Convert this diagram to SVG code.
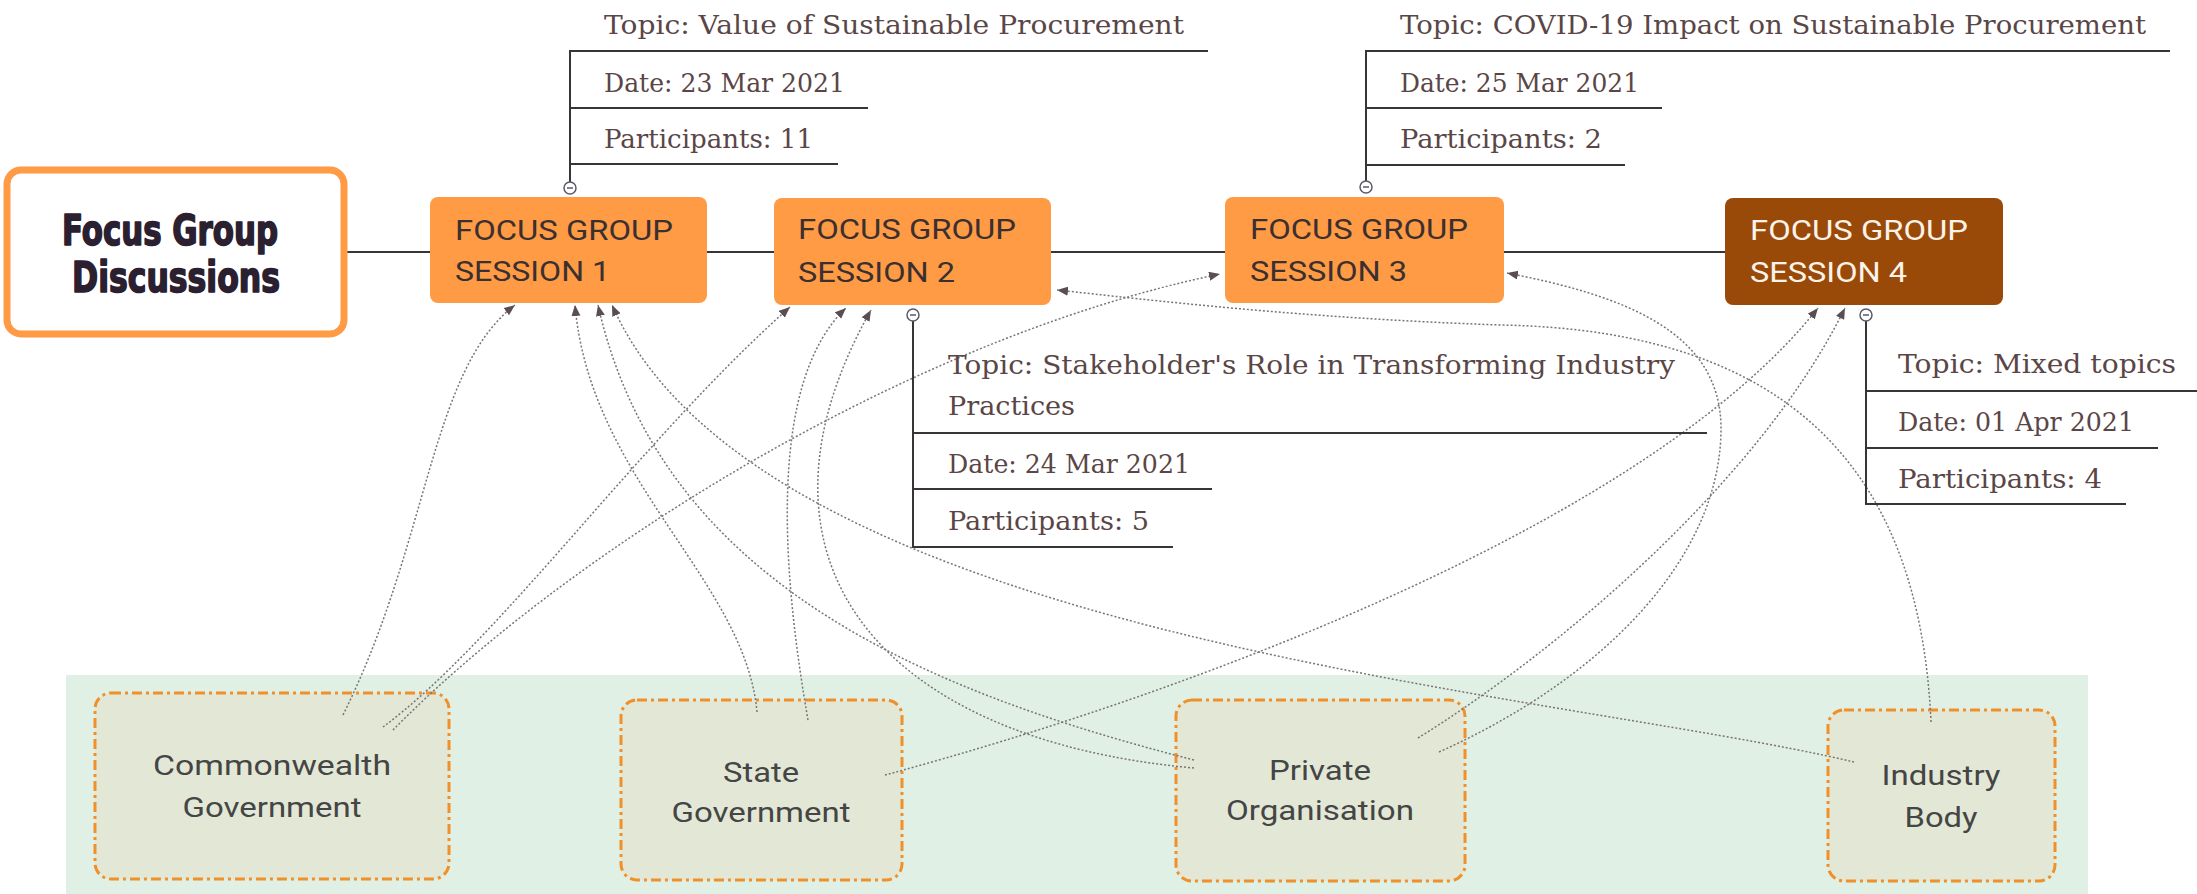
<svg xmlns="http://www.w3.org/2000/svg" width="2197" height="894" viewBox="0 0 2197 894">
<style>
.sess{fill:#FF9A45;}
.sess4{fill:#9A4A08;}
.stxt{font-family:Roboto,"Liberation Sans",sans-serif;font-size:28px;fill:#3a3030;}
.stxt4{font-family:Roboto,"Liberation Sans",sans-serif;font-size:28px;fill:#fbf3ea;}
.dtxt{font-family:"DejaVu Serif","Liberation Serif",serif;font-size:26px;fill:#5a4646;}
.solid{stroke:#3a3535;stroke-width:2;fill:none;}
.dline{stroke:#3a3535;stroke-width:2;fill:none;}
.coll{fill:#fff;stroke:#5a5a6a;stroke-width:1.5;}
.stk{fill:#E3E8D6;stroke:#F0902A;stroke-width:3;stroke-dasharray:10 4 3 4;}
.ltxt{font-family:Roboto,"Liberation Sans",sans-serif;font-size:28px;fill:#454545;text-anchor:middle;}
.cur{fill:none;stroke:#7a7474;stroke-width:1.5;stroke-dasharray:2 2;marker-end:url(#arr);}
.title{font-family:"DejaVu Sans Condensed","DejaVu Sans",sans-serif;font-weight:bold;font-size:42px;fill:#2a2030;stroke:#2a2030;stroke-width:1.6;stroke-linejoin:round;}
</style>
<defs>
<marker id="arr" markerUnits="userSpaceOnUse" markerWidth="12" markerHeight="10" refX="11" refY="4.5" orient="auto">
<path d="M0,0 L11,4.5 L0,9 z" fill="#5a4e52"/>
</marker>
</defs>
<rect x="0" y="0" width="2197" height="894" fill="#ffffff"/>
<rect id="stakeholder-area" x="66" y="675" width="2022" height="219" fill="#E1F0E4"/>

<g id="commonwealth">
<rect class="stk" x="95" y="693" width="354" height="186" rx="16"/>
<text class="ltxt" x="272" y="775" textLength="238" lengthAdjust="spacingAndGlyphs">Commonwealth</text>
<text class="ltxt" x="272" y="817" textLength="179" lengthAdjust="spacingAndGlyphs">Government</text>
</g>
<g id="state">
<rect class="stk" x="621" y="700" width="281" height="180" rx="16"/>
<text class="ltxt" x="761" y="782" textLength="76" lengthAdjust="spacingAndGlyphs">State</text>
<text class="ltxt" x="761" y="822" textLength="179" lengthAdjust="spacingAndGlyphs">Government</text>
</g>
<g id="private">
<rect class="stk" x="1176" y="700" width="289" height="181" rx="16"/>
<text class="ltxt" x="1320" y="780" textLength="102" lengthAdjust="spacingAndGlyphs">Private</text>
<text class="ltxt" x="1320" y="820" textLength="188" lengthAdjust="spacingAndGlyphs">Organisation</text>
</g>
<g id="industry">
<rect class="stk" x="1828" y="710" width="227" height="171" rx="16"/>
<text class="ltxt" x="1941" y="785" textLength="119" lengthAdjust="spacingAndGlyphs">Industry</text>
<text class="ltxt" x="1941" y="827" textLength="73" lengthAdjust="spacingAndGlyphs">Body</text>
</g>

<g id="connectors">
<line class="solid" x1="344" y1="252" x2="430" y2="252"/>
<line class="solid" x1="707" y1="252" x2="774" y2="252"/>
<line class="solid" x1="1051" y1="252" x2="1225" y2="252"/>
<line class="solid" x1="1504" y1="252" x2="1725" y2="252"/>
<path class="cur" d="M343,715 C430,540 430,370 515,305"/>
<path class="cur" d="M383,727 C500,640 640,440 790,307"/>
<path class="cur" d="M393,730 C560,560 900,340 1220,274"/>
<path class="cur" d="M757,712 C745,580 590,480 575,305"/>
<path class="cur" d="M808,720 C780,560 770,380 846,308"/>
<path class="cur" d="M885,775 C1200,690 1650,520 1818,308"/>
<path class="cur" d="M1194,760 C920,690 660,580 598,305"/>
<path class="cur" d="M1194,768 C880,740 730,560 871,310"/>
<path class="cur" d="M1418,738 C1560,650 1760,480 1845,308"/>
<path class="cur" d="M1439,752 C1600,680 1720,560 1721,430 C1722,330 1620,295 1507,273"/>
<path class="cur" d="M1854,762 C1550,690 760,640 612,305"/>
<path class="cur" d="M1931,722 C1920,480 1800,330 1500,325 C1300,318 1150,300 1057,290"/>
</g>

<g id="main">
<rect x="7" y="170" width="337" height="164" rx="14" fill="#ffffff" stroke="#FF9A45" stroke-width="7"/>
<text class="title" x="62" y="245" textLength="216" lengthAdjust="spacingAndGlyphs">Focus Group</text>
<text class="title" x="72" y="292" textLength="208" lengthAdjust="spacingAndGlyphs">Discussions</text>
</g>

<g id="session1">
<rect class="sess" x="430" y="197" width="277" height="106" rx="8"/>
<text class="stxt" x="455" y="240" textLength="218" lengthAdjust="spacingAndGlyphs">FOCUS GROUP</text>
<text class="stxt" x="455" y="281" textLength="155" lengthAdjust="spacingAndGlyphs">SESSION 1</text>
</g>
<g id="session2">
<rect class="sess" x="774" y="198" width="277" height="107" rx="8"/>
<text class="stxt" x="798" y="239" textLength="218" lengthAdjust="spacingAndGlyphs">FOCUS GROUP</text>
<text class="stxt" x="798" y="282" textLength="157" lengthAdjust="spacingAndGlyphs">SESSION 2</text>
</g>
<g id="session3">
<rect class="sess" x="1225" y="197" width="279" height="106" rx="8"/>
<text class="stxt" x="1250" y="239" textLength="218" lengthAdjust="spacingAndGlyphs">FOCUS GROUP</text>
<text class="stxt" x="1250" y="281" textLength="157" lengthAdjust="spacingAndGlyphs">SESSION 3</text>
</g>
<g id="session4">
<rect class="sess4" x="1725" y="198" width="278" height="107" rx="8"/>
<text class="stxt4" x="1750" y="240" textLength="218" lengthAdjust="spacingAndGlyphs">FOCUS GROUP</text>
<text class="stxt4" x="1750" y="282" textLength="157" lengthAdjust="spacingAndGlyphs">SESSION 4</text>
</g>

<g id="details1">
<line class="dline" x1="570" y1="51" x2="570" y2="182"/>
<line class="dline" x1="569" y1="51" x2="1208" y2="51"/>
<line class="dline" x1="569" y1="108" x2="868" y2="108"/>
<line class="dline" x1="569" y1="164" x2="838" y2="164"/>
<text class="dtxt" x="604" y="34" textLength="580" lengthAdjust="spacingAndGlyphs">Topic: Value of Sustainable Procurement</text>
<text class="dtxt" x="604" y="92" textLength="241" lengthAdjust="spacingAndGlyphs">Date: 23 Mar 2021</text>
<text class="dtxt" x="604" y="148" textLength="209" lengthAdjust="spacingAndGlyphs">Participants: 11</text>
<circle class="coll" cx="570" cy="188" r="6"/>
<line x1="567" y1="188" x2="573" y2="188" stroke="#5a5a6a" stroke-width="1.5"/>
</g>
<g id="details2">
<line class="dline" x1="913" y1="321" x2="913" y2="547"/>
<line class="dline" x1="912" y1="433" x2="1707" y2="433"/>
<line class="dline" x1="912" y1="489" x2="1212" y2="489"/>
<line class="dline" x1="912" y1="547" x2="1173" y2="547"/>
<text class="dtxt" x="948" y="374" textLength="727" lengthAdjust="spacingAndGlyphs">Topic: Stakeholder's Role in Transforming Industry</text>
<text class="dtxt" x="948" y="415" textLength="127" lengthAdjust="spacingAndGlyphs">Practices</text>
<text class="dtxt" x="948" y="473" textLength="242" lengthAdjust="spacingAndGlyphs">Date: 24 Mar 2021</text>
<text class="dtxt" x="948" y="530" textLength="201" lengthAdjust="spacingAndGlyphs">Participants: 5</text>
<circle class="coll" cx="913" cy="315" r="6"/>
<line x1="910" y1="315" x2="916" y2="315" stroke="#5a5a6a" stroke-width="1.5"/>
</g>
<g id="details3">
<line class="dline" x1="1366" y1="51" x2="1366" y2="181"/>
<line class="dline" x1="1365" y1="51" x2="2170" y2="51"/>
<line class="dline" x1="1365" y1="108" x2="1662" y2="108"/>
<line class="dline" x1="1365" y1="165" x2="1625" y2="165"/>
<text class="dtxt" x="1400" y="34" textLength="746" lengthAdjust="spacingAndGlyphs">Topic: COVID-19 Impact on Sustainable Procurement</text>
<text class="dtxt" x="1400" y="92" textLength="239" lengthAdjust="spacingAndGlyphs">Date: 25 Mar 2021</text>
<text class="dtxt" x="1400" y="148" textLength="202" lengthAdjust="spacingAndGlyphs">Participants: 2</text>
<circle class="coll" cx="1366" cy="187" r="6"/>
<line x1="1363" y1="187" x2="1369" y2="187" stroke="#5a5a6a" stroke-width="1.5"/>
</g>
<g id="details4">
<line class="dline" x1="1866" y1="321" x2="1866" y2="504"/>
<line class="dline" x1="1865" y1="391" x2="2197" y2="391"/>
<line class="dline" x1="1865" y1="448" x2="2158" y2="448"/>
<line class="dline" x1="1865" y1="504" x2="2126" y2="504"/>
<text class="dtxt" x="1898" y="373" textLength="278" lengthAdjust="spacingAndGlyphs">Topic: Mixed topics</text>
<text class="dtxt" x="1898" y="431" textLength="236" lengthAdjust="spacingAndGlyphs">Date: 01 Apr 2021</text>
<text class="dtxt" x="1898" y="488" textLength="204" lengthAdjust="spacingAndGlyphs">Participants: 4</text>
<circle class="coll" cx="1866" cy="315" r="6"/>
<line x1="1863" y1="315" x2="1869" y2="315" stroke="#5a5a6a" stroke-width="1.5"/>
</g>
</svg>
